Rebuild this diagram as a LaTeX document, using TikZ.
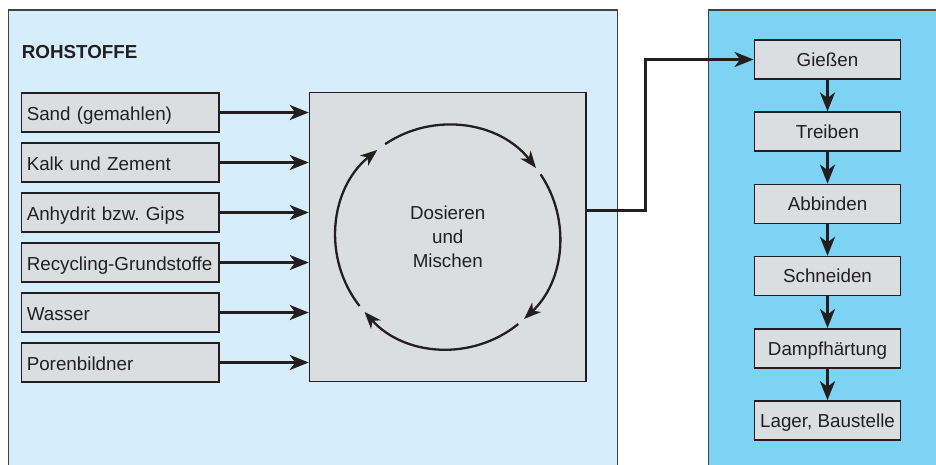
\documentclass[tikz,border=0pt]{standalone}
\usepackage{fontspec}
\setmainfont{Liberation Sans}
\usetikzlibrary{arrows.meta,positioning}
\definecolor{paleblue}{RGB}{214,238,251}
\definecolor{skyblue}{RGB}{125,211,243}
\definecolor{boxgray}{RGB}{219,222,224}
\definecolor{ink}{RGB}{35,31,32}
\frenchspacing
\tikzset{
  panel/.style ={draw=ink!85,line width=1.2pt},
  stoff/.style ={draw=ink,line width=1.5pt,fill=boxgray,minimum width=197.6pt,minimum height=39pt,
                 text width=187pt,inner xsep=5.3pt,align=left,text height=19.5pt,text depth=3pt,
                 font=\fontsize{18.8}{22}\selectfont,text=ink},
  stufe/.style ={draw=ink,line width=1.5pt,fill=boxgray,minimum width=146.4pt,minimum height=39pt,
                 inner xsep=2pt,text height=17.5pt,text depth=4pt,font=\fontsize{18.8}{22}\selectfont,text=ink},
  ar/.style    ={-{Stealth[length=19pt,width=15pt,inset=5.5pt]},line width=3pt,draw=ink},
  kreis/.style ={-{Stealth[length=17pt,width=13pt,inset=5pt]},line width=2.3pt,draw=ink},
}

\begin{document}
\begin{tikzpicture}[x=1pt,y=1pt]
  \useasboundingbox (0,0) rectangle (936,464);
  \draw[panel,fill=paleblue] (8.3,-10) rectangle (617.3,454);
  \draw[panel,fill=skyblue] (708.3,-10) rectangle (950,454);
  \node[anchor=west,inner sep=0pt,text=ink,font=\fontsize{18.8}{22}\selectfont\bfseries] (titel) at (21.7,412.3) {ROHSTOFFE};

  \node[stoff,anchor=west] (sand) at (20.7,351.5) {Sand (gemahlen)};
  \node[stoff,below=9.5pt of sand] (kalk) {Kalk und Zement};
  \node[stoff,below=9.5pt of kalk] (anhydrit) {Anhydrit bzw. Gips};
  \node[stoff,below=9.5pt of anhydrit] (recycling) {Recycling-Grundstoffe};
  \node[stoff,below=9.5pt of recycling] (wasser) {Wasser};
  \node[stoff,below=9.5pt of wasser] (poren) {Porenbildner};

  \node[draw=ink,line width=1.5pt,fill=boxgray,minimum width=276.5pt,minimum height=289.4pt] (mix) at (447.75,227) {};
  \node[align=center,text=ink,font=\fontsize{18.8}{24}\selectfont] (mixtext) at (mix.center) {Dosieren\\und\\Mischen};
  \foreach \s/\e in {124/38,34/-47,-51/-138,-142/-231}
    \draw[kreis] ([shift={(\s:112pt)}]mix.center) arc[start angle=\s,end angle=\e,radius=112pt];

  \foreach \n in {sand,kalk,anhydrit,recycling,wasser,poren}
    \draw[ar] (\n.east) -- (\n.east -| mix.west);

  \node[stufe] (giessen) at (827.5,404.5) {Gießen};
  \node[stufe,below=31.7pt of giessen] (treiben) {Treiben};
  \node[stufe,below=31.7pt of treiben] (abbinden) {Abbinden};
  \node[stufe,below=31.7pt of abbinden] (schneiden) {Schneiden};
  \node[stufe,below=31.7pt of schneiden] (dampf) {Dampfhärtung};
  \node[stufe,below=31.7pt of dampf] (lager) {Lager, Baustelle};

  \draw[ar] ([yshift=26.3pt]mix.east) -- ++(58.5,0) |- (giessen.west);
  \draw[ar] (giessen) -- (treiben);
  \draw[ar] (treiben) -- (abbinden);
  \draw[ar] (abbinden) -- (schneiden);
  \draw[ar] (schneiden) -- (dampf);
  \draw[ar] (dampf) -- (lager);
\end{tikzpicture}
\end{document}
